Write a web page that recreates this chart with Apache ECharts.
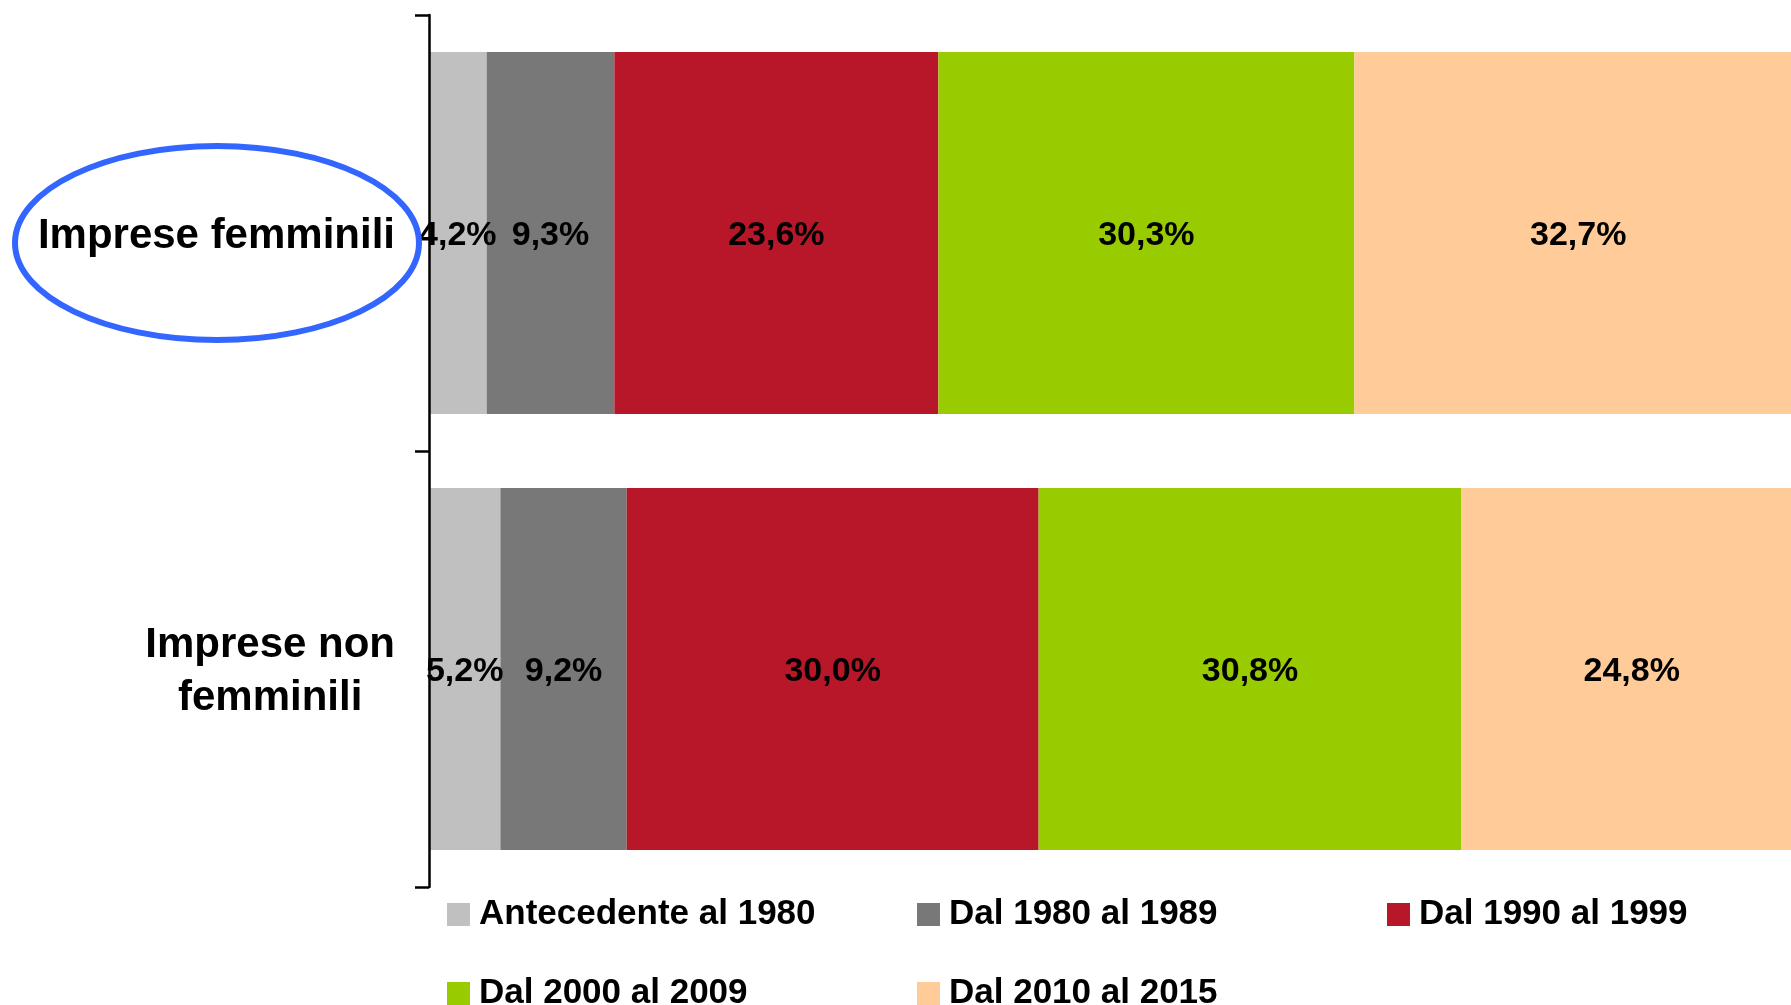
<!DOCTYPE html>
<html>
<head>
<meta charset="utf-8">
<script src="https://cdn.jsdelivr.net/npm/echarts@6/dist/echarts.min.js"></script>
<style>
  html, body { margin: 0; padding: 0; background: #fff; }
  #main { width: 1791px; height: 1005px; }
</style>
</head>
<body>
<div id="main"></div>
<script>
// categorie (dall'alto in basso)
let categories = ['Imprese femminili', 'Imprese non\nfemminili'];
let periods = ['Antecedente al 1980', 'Dal 1980 al 1989', 'Dal 1990 al 1999', 'Dal 2000 al 2009', 'Dal 2010 al 2015'];
// quote percentuali per periodo di iscrizione
let ante1980 = [4.2, 5.2];
let dal1980 = [9.3, 9.2];
let dal1990 = [23.6, 30.0];
let dal2000 = [30.3, 30.8];
let dal2010 = [32.7, 24.8];
let values = [ante1980, dal1980, dal1990, dal2000, dal2010];
let colors = ['#C0C0C0', '#787878', '#B71729', '#99CC00', '#FFCC99'];

let font = '"Liberation Sans", Arial, sans-serif';

let myChart = echarts.init(document.getElementById('main'));

let series = periods.map(function (name, i) {
    return {
        name: name,
        type: 'bar',
        stack: 'totale',
        data: values[i],
        barCategoryGap: '17%',
        itemStyle: { color: colors[i] },
        label: {
            show: true,
            position: 'inside',
            offset: [0, 3],
            color: '#000',
            fontFamily: font,
            fontWeight: 'bold',
            fontSize: 34,
            formatter: function (p) {
                return p.value.toFixed(1).replace('.', ',') + '%';
            }
        }
    };
});

let option = {
    animation: false,
    color: colors,
    grid: {
        left: 429,
        width: 1373, // il 100% esce un po' dal bordo destro
        top: 15,
        bottom: 118,
        outerBoundsMode: 'none'
    },
    legend: { // legenda su due righe
        left: 447,
        top: 891,
        width: 1400,
        padding: 0,
        itemWidth: 23,
        itemHeight: 23,
        itemGap: 32,
        icon: 'rect',
        data: periods,
        textStyle: {
            color: '#000',
            fontFamily: font,
            fontWeight: 'bold',
            fontSize: 35,
            lineHeight: 47,
            width: 406,
            padding: [0, 0, 0, 4]
        }
    },
    xAxis: {
        type: 'value',
        min: 0,
        max: 100,
        show: false
    },
    yAxis: {
        type: 'category',
        inverse: true,
        z: 10,
        data: categories,
        axisLine: {
            show: true,
            lineStyle: { color: '#000', width: 2.5 }
        },
        axisTick: {
            show: true,
            length: 14,
            lineStyle: { color: '#000', width: 2.5 }
        },
        axisLabel: {
            margin: 34,
            padding: [6, 0, 0, 0],
            formatter: function (v) {
                return v.split('\n').map(function (s) { return '{c|' + s + '}'; }).join('\n');
            },
            rich: {
                c: {
                    color: '#000',
                    fontFamily: font,
                    fontWeight: 'bold',
                    fontSize: 42,
                    lineHeight: 53,
                    align: 'center'
                }
            }
        }
    },
    graphic: [{ // cerchio blu attorno a "Imprese femminili"
        type: 'ellipse',
        shape: { cx: 217, cy: 243, rx: 202, ry: 97 },
        style: { fill: 'none', stroke: '#3366FF', lineWidth: 6 },
        z: 100
    }],
    series: series
};

myChart.setOption(option);
</script>
</body>
</html>
